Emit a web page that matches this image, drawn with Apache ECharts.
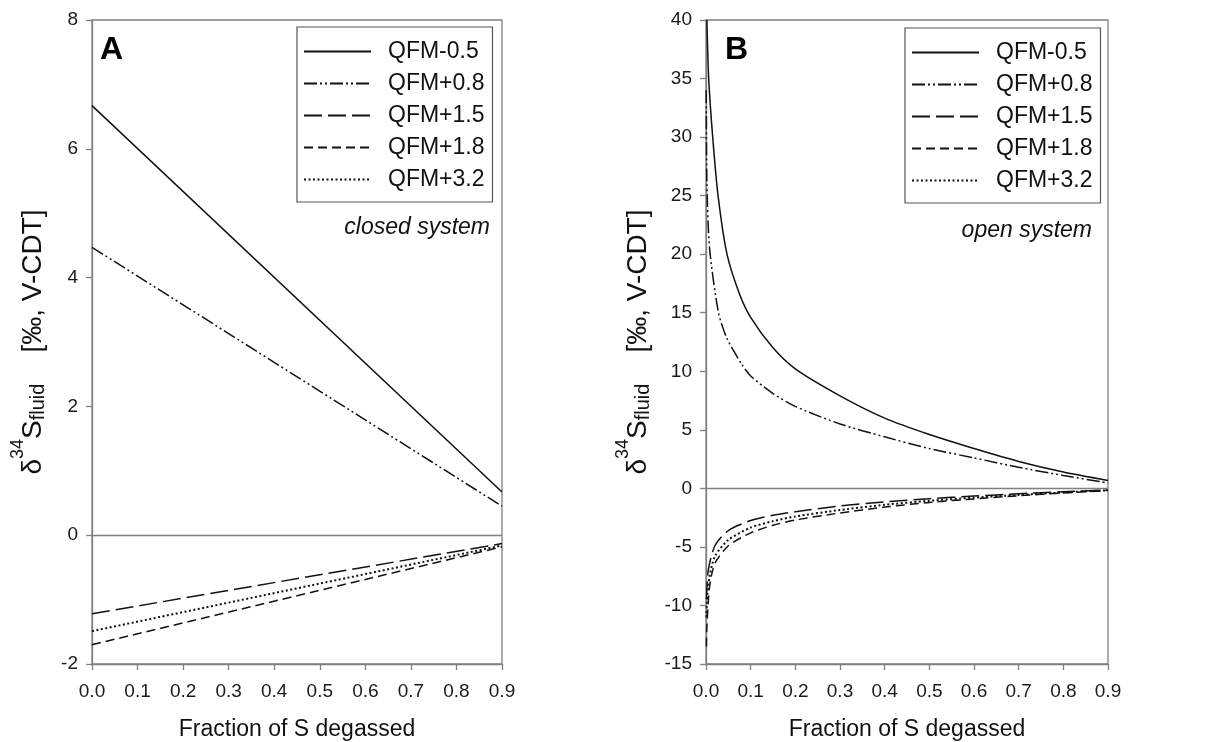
<!DOCTYPE html>
<html>
<head>
<meta charset="utf-8">
<script src="https://cdn.jsdelivr.net/npm/echarts@6/dist/echarts.min.js"></script>
<style>
html,body{margin:0;padding:0;background:#fff;}
#chart{width:1210px;height:742px;}
</style>
</head>
<body>
<div id="chart"></div>
<script>
// ---------- data ----------
const seriesNames = ['QFM-0.5', 'QFM+0.8', 'QFM+1.5', 'QFM+1.8', 'QFM+3.2'];
const xTickLabels = ['0.0','0.1','0.2','0.3','0.4','0.5','0.6','0.7','0.8','0.9'];
const yTicksA = [-2, 0, 2, 4, 6, 8];
const yTicksB = [-15, -10, -5, 0, 5, 10, 15, 20, 25, 30, 35, 40];

// Panel A: closed system (fraction degassed -> delta34S fluid)
const closedF = [0, 0.9];
const closedQFMm05 = [6.67, 0.67];
const closedQFMp08 = [4.47, 0.45];
const closedQFMp15 = [-1.22, -0.13];
const closedQFMp18 = [-1.70, -0.18];
const closedQFMp32 = [-1.49, -0.16];

// Panel B: open system
const openF_QFMm05 = [0.002, 0.006, 0.015, 0.027, 0.047, 0.075, 0.1, 0.15, 0.2, 0.3, 0.4, 0.5, 0.6, 0.7, 0.8, 0.9];
const openV_QFMm05 = [40, 35, 30, 25, 20, 16.6, 14.6, 12.0, 10.2, 7.9, 6.0, 4.6, 3.4, 2.3, 1.4, 0.68];
const openF_QFMp08 = [0.0005, 0.002, 0.008, 0.028, 0.047, 0.08, 0.1, 0.15, 0.2, 0.3, 0.4, 0.5, 0.6, 0.7, 0.8, 0.9];
const openV_QFMp08 = [34, 26, 20.5, 15, 12.8, 10.6, 9.6, 8.1, 7.0, 5.5, 4.4, 3.4, 2.6, 1.8, 1.1, 0.46];
const openF_QFMp15 = [0.001, 0.005, 0.02, 0.05, 0.1, 0.15, 0.2, 0.3, 0.4, 0.5, 0.6, 0.7, 0.8, 0.9];
const openV_QFMp15 = [-9.5, -7.0, -4.9, -3.6, -2.75, -2.3, -2.0, -1.5, -1.15, -0.88, -0.66, -0.46, -0.29, -0.13];
const openF_QFMp18 = [0.001, 0.0017, 0.008, 0.02, 0.05, 0.1, 0.15, 0.2, 0.3, 0.4, 0.5, 0.6, 0.7, 0.8, 0.9];
const openV_QFMp18 = [-13.5, -12, -8.4, -6.4, -4.9, -3.8, -3.15, -2.7, -2.1, -1.6, -1.2, -0.9, -0.63, -0.4, -0.18];
const openF_QFMp32 = [0.001, 0.0026, 0.008, 0.02, 0.05, 0.1, 0.15, 0.2, 0.3, 0.4, 0.5, 0.6, 0.7, 0.8, 0.9];
const openV_QFMp32 = [-11, -9.2, -7.5, -5.8, -4.4, -3.35, -2.8, -2.4, -1.85, -1.4, -1.06, -0.79, -0.56, -0.35, -0.16];

// ---------- styles ----------
const FONT = '"Liberation Sans", Arial, sans-serif';
const AXIS_GRAY = '#808080';
const LINE_COLOR = '#111111';
const dashStyles = [
  {type: 'solid', width: 1.5},
  {type: [13, 3, 2, 3, 2, 3], width: 1.5},
  {type: [18, 6], width: 1.5},
  {type: [9, 5], width: 1.5},
  {type: [2, 2.5], width: 2}
];

function zip(xs, ys) { return xs.map((x, i) => [x, ys[i]]); }

const closedData = [closedQFMm05, closedQFMp08, closedQFMp15, closedQFMp18, closedQFMp32].map(v => zip(closedF, v));
const openData = [
  zip(openF_QFMm05, openV_QFMm05),
  zip(openF_QFMp08, openV_QFMp08),
  zip(openF_QFMp15, openV_QFMp15),
  zip(openF_QFMp18, openV_QFMp18),
  zip(openF_QFMp32, openV_QFMp32)
];

function makeSeries(dataSets, idx) {
  return dataSets.map((d, i) => {
    const s = {
      name: seriesNames[i],
      type: 'line',
      xAxisIndex: idx,
      yAxisIndex: idx,
      data: d,
      symbol: 'none',
      showSymbol: false,
      smooth: idx === 1 ? 0.25 : false,
      clip: true,
      lineStyle: {color: LINE_COLOR, width: dashStyles[i].width, type: dashStyles[i].type},
      itemStyle: {color: LINE_COLOR},
      z: 3
    };
    if (i === 0) {
      s.markLine = {
        silent: true,
        symbol: ['none', 'none'],
        label: {show: false},
        lineStyle: {color: AXIS_GRAY, width: 1.3, type: 'solid'},
        data: [{yAxis: 0}]
      };
    }
    return s;
  });
}

function xAxisDef(gi) {
  return {
    type: 'value', gridIndex: gi, min: 0, max: 0.9, interval: 0.1,
    name: 'Fraction of S degassed', nameLocation: 'middle', nameGap: 53,
    nameTextStyle: {fontSize: 23, color: '#111', fontFamily: FONT, lineHeight: 26},
    axisLine: {show: true, onZero: false, lineStyle: {color: AXIS_GRAY, width: 1.3}},
    axisTick: {show: true, inside: false, length: 6, lineStyle: {color: AXIS_GRAY, width: 1.3}},
    axisLabel: {fontSize: 19, color: '#1a1a1a', fontFamily: FONT, margin: 18,
      formatter: v => xTickLabels[Math.round(v * 10)]},
    splitLine: {show: false}
  };
}
function yAxisDef(gi, ticks) {
  return {
    type: 'value', gridIndex: gi, min: ticks[0], max: ticks[ticks.length - 1],
    interval: ticks[1] - ticks[0],
    axisLine: {show: true, onZero: false, lineStyle: {color: AXIS_GRAY, width: 1.3}},
    axisTick: {show: true, inside: false, length: 6, lineStyle: {color: AXIS_GRAY, width: 1.3}},
    axisLabel: {fontSize: 19, color: '#1a1a1a', fontFamily: FONT, margin: 14},
    splitLine: {show: false}
  };
}

function legendDef(left, top) {
  return {
    left: left, top: top, orient: 'vertical',
    data: seriesNames, selectedMode: false,
    padding: [13, 8, 11, 6],
    itemWidth: 67, itemHeight: 14, itemGap: 9,
    itemStyle: {color: 'rgba(0,0,0,0)', borderColor: 'rgba(0,0,0,0)', borderWidth: 0},
    textStyle: {fontSize: 23, color: '#111', fontFamily: FONT, lineHeight: 23, padding: [0, 0, 0, 12]},
    borderColor: '#555', borderWidth: 1.2, backgroundColor: '#fff',
    z: 10
  };
}

const yTitleRich = {
  m: {fontSize: 28, fontFamily: FONT, color: '#111', lineHeight: 34},
  sup: {fontSize: 18, fontFamily: FONT, color: '#111', padding: [0, 0, 30, 0]},
  sub: {fontSize: 20, fontFamily: FONT, color: '#111', padding: [10, 0, 0, 0]}
};
const yTitleText = '{m|δ}{sup|34}{m|S}{sub|fluid}{m|    [‰, V-CDT]}';

function yTitle(x, y) {
  return {
    type: 'text', x: x, y: y, rotation: Math.PI / 2, z: 10,
    style: {text: yTitleText, rich: yTitleRich, align: 'center', verticalAlign: 'middle',
      fontFamily: FONT, fontSize: 28, fill: '#111'}
  };
}

const gridCommon = {top: 20, bottom: 78, show: true, borderColor: AXIS_GRAY, borderWidth: 1.3,
  backgroundColor: 'transparent', containLabel: false, outerBoundsMode: 'none'};

const option = {
  animation: false,
  backgroundColor: '#fff',
  grid: [
    Object.assign({left: 92, right: 708}, gridCommon),
    Object.assign({left: 706, right: 102}, gridCommon)
  ],
  xAxis: [xAxisDef(0), xAxisDef(1)],
  yAxis: [yAxisDef(0, yTicksA), yAxisDef(1, yTicksB)],
  legend: [legendDef(297, 27), legendDef(905, 28)],
  series: makeSeries(closedData, 0).concat(makeSeries(openData, 1)),
  graphic: [
    {type: 'text', x: 100, y: 50, z: 10, style: {text: 'A', fontSize: 32, fontWeight: 'bold', fontFamily: FONT, fill: '#000', align: 'left', verticalAlign: 'middle'}},
    {type: 'text', x: 725, y: 50, z: 10, style: {text: 'B', fontSize: 32, fontWeight: 'bold', fontFamily: FONT, fill: '#000', align: 'left', verticalAlign: 'middle'}},
    {type: 'text', x: 490, y: 228, z: 10, style: {text: 'closed system', fontSize: 23, fontStyle: 'italic', fontFamily: FONT, fill: '#111', align: 'right', verticalAlign: 'middle'}},
    {type: 'text', x: 1092, y: 231, z: 10, style: {text: 'open system', fontSize: 23, fontStyle: 'italic', fontFamily: FONT, fill: '#111', align: 'right', verticalAlign: 'middle'}},
    yTitle(33, 342),
    yTitle(638, 342)
  ]
};

const chart = echarts.init(document.getElementById('chart'), null, {renderer: 'canvas'});
chart.setOption(option);
</script>
</body>
</html>
